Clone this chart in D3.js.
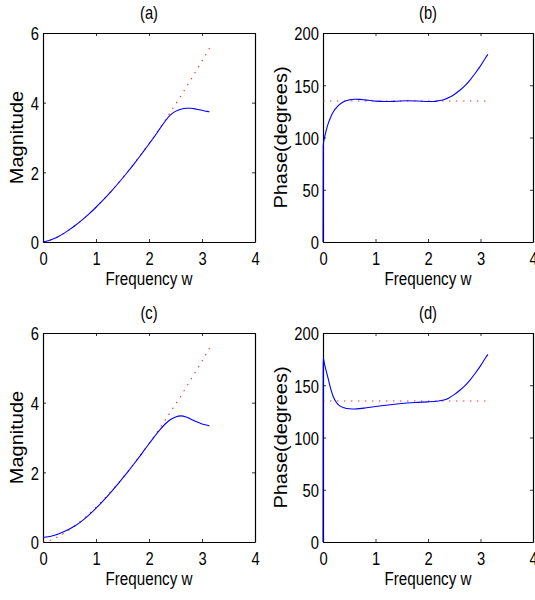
<!DOCTYPE html>
<html>
<head>
<meta charset="utf-8">
<script src="https://cdn.jsdelivr.net/npm/d3@7"></script>
<style>
  html, body { margin: 0; padding: 0; background: #fff; }
  svg { display: block; font-family: "Liberation Sans", Arial, sans-serif; }
</style>
</head>
<body>
<svg id="fig" width="535" height="600"></svg>
<script>
// Frequency grid for magnitude responses (rad/sample)
const magW = [0, 0.1, 0.2, 0.3, 0.4, 0.5, 0.6, 0.7, 0.8, 0.9, 1.0, 1.1, 1.2, 1.3, 1.4, 1.5,
  1.6, 1.7, 1.8, 1.9, 2.0, 2.1, 2.2, 2.3, 2.4, 2.5, 2.6, 2.7, 2.8, 2.9, 3.0, 3.1, 3.1416];
// Ideal magnitude (dotted)
const idealMag = [0, 0.032, 0.089, 0.164, 0.253, 0.354, 0.465, 0.586, 0.716, 0.854, 1.0, 1.154,
  1.315, 1.482, 1.657, 1.837, 2.024, 2.217, 2.415, 2.619, 2.828, 3.043, 3.263, 3.488, 3.718,
  3.953, 4.192, 4.437, 4.685, 4.939, 5.196, 5.458, 5.568];
// Designed filter magnitudes
const magA = [0, 0.035, 0.09, 0.165, 0.255, 0.355, 0.465, 0.585, 0.715, 0.852, 0.998, 1.15,
  1.31, 1.477, 1.651, 1.83, 2.016, 2.208, 2.405, 2.607, 2.814, 3.02, 3.24, 3.46, 3.64, 3.75,
  3.81, 3.84, 3.84, 3.81, 3.78, 3.75, 3.74];
const magC = [0.13, 0.15, 0.185, 0.235, 0.3, 0.375, 0.46, 0.565, 0.685, 0.82, 0.97, 1.125,
  1.29, 1.46, 1.64, 1.825, 2.015, 2.21, 2.41, 2.615, 2.82, 3.02, 3.21, 3.38, 3.51, 3.59,
  3.62, 3.59, 3.52, 3.45, 3.39, 3.35, 3.33];

// Frequency grid for phase responses
const phaseW = [0, 0.004, 0.03, 0.06, 0.1, 0.15, 0.2, 0.25, 0.3, 0.4, 0.5, 0.6, 0.7, 0.8, 0.9,
  1.0, 1.2, 1.4, 1.6, 1.8, 2.0, 2.1, 2.2, 2.3, 2.4, 2.5, 2.6, 2.7, 2.8, 2.9, 3.0, 3.1, 3.1416];
const phaseB = [0, 92, 100, 106.5, 113.5, 119.8, 124.8, 128.2, 131, 134.5, 136, 136.6, 136.5,
  136, 135.4, 134.8, 134.4, 134.7, 135.1, 135, 134.5, 134.5, 135.1, 136.2, 138.2, 141.2, 145,
  149.5, 155, 161.5, 168.5, 176.5, 179.5];
const phaseD = [0, 176, 170, 164, 156, 146, 138.5, 134, 131, 128.5, 127.5, 127.3, 127.6,
  128.2, 128.9, 129.6, 130.9, 132.1, 133.0, 133.6, 134.1, 134.4, 134.9, 135.9, 137.9, 141, 145,
  149.5, 155, 161.5, 168.5, 176.5, 179.5];
// Ideal phase (dotted)
const idealPhaseW = [0, 3.1416];
const idealPhase = [135, 135];

// Axis ticks and labels
const xTicks = [0, 1, 2, 3, 4];
const magTicks = [0, 2, 4, 6];
const phaseTicks = [0, 50, 100, 150, 200];
const titles = ["(a)", "(b)", "(c)", "(d)"];
const xLabel = "Frequency w";
const yLabels = ["Magnitude", "Phase(degrees)"];

const zip = (xs, ys) => xs.map((x, i) => [x, ys[i]]);

const panels = [
  { col: 0, row: 0, title: titles[0], ylab: yLabels[0], yDom: [0, 6], yTicks: magTicks,
    ideal: zip(magW, idealMag), actual: zip(magW, magA) },
  { col: 1, row: 0, title: titles[1], ylab: yLabels[1], yDom: [0, 200], yTicks: phaseTicks,
    ideal: zip(idealPhaseW, idealPhase), actual: zip(phaseW, phaseB) },
  { col: 0, row: 1, title: titles[2], ylab: yLabels[0], yDom: [0, 6], yTicks: magTicks,
    ideal: zip(magW, idealMag), actual: zip(magW, magC) },
  { col: 1, row: 1, title: titles[3], ylab: yLabels[1], yDom: [0, 200], yTicks: phaseTicks,
    ideal: zip(idealPhaseW, idealPhase), actual: zip(phaseW, phaseD) }
];

const svg = d3.select("#fig");
const colX = [[43, 255], [323, 533]];
const rowY = [[33, 242], [333, 542]];
const ylabX = [23, 287];
const fmt = d3.format("~g");

const tickSX = 0.82;   // horizontal squeeze of the lettering
panels.forEach(p => {
  const [x0, x1] = colX[p.col];
  const [y0, y1] = rowY[p.row];
  const x = d3.scaleLinear().domain([0, 4]).range([x0, x1]);
  const y = d3.scaleLinear().domain(p.yDom).range([y1, y0]);
  const g = svg.append("g");

  // box with inward ticks on all four sides
  const axB = g.append("g").attr("transform", `translate(0,${y1})`)
    .call(d3.axisBottom(x).tickValues(xTicks).tickFormat(fmt)
      .tickSizeInner(-3).tickSizeOuter(0).tickPadding(10));
  const axT = g.append("g").attr("transform", `translate(0,${y0})`)
    .call(d3.axisTop(x).tickValues(xTicks).tickSizeInner(-3).tickSizeOuter(0).tickFormat(""));
  const axL = g.append("g").attr("transform", `translate(${x0},0)`)
    .call(d3.axisLeft(y).tickValues(p.yTicks).tickFormat(fmt)
      .tickSizeInner(-3).tickSizeOuter(0).tickPadding(5));
  const axR = g.append("g").attr("transform", `translate(${x1},0)`)
    .call(d3.axisRight(y).tickValues(p.yTicks).tickSizeInner(-3).tickSizeOuter(0).tickFormat(""));
  [axB, axT, axL, axR].forEach(a => {
    a.select(".domain").attr("stroke", "#000").attr("stroke-width", 1.2);
    a.selectAll(".tick line").attr("stroke", "#000").attr("stroke-width", 0.8);
  });
  axB.selectAll(".tick text").attr("font-size", 18).attr("fill", "#000")
    .attr("font-family", "Liberation Sans, Arial, sans-serif")
    .attr("transform", `scale(${tickSX},1)`);
  axL.selectAll(".tick text").attr("font-size", 18).attr("fill", "#000")
    .attr("font-family", "Liberation Sans, Arial, sans-serif")
    .attr("dy", "0.38em")
    .attr("transform", `scale(${tickSX},1)`);

  // ideal response (dotted red) and designed response (blue)
  const line = d3.line().x(d => x(d[0])).y(d => y(d[1])).curve(d3.curveMonotoneX);
  g.append("path").datum(p.ideal).attr("d", line)
    .attr("fill", "none").attr("stroke", "#ff0000").attr("stroke-width", 1.1)
    .attr("stroke-dasharray", "1.4,5.6").attr("opacity", 0.85);
  g.append("path").datum(p.actual).attr("d", line)
    .attr("fill", "none").attr("stroke", "#0000ff").attr("stroke-width", 1.1);

  // title, x label, y label
  const cx = (x0 + x1) / 2, cy = (y0 + y1) / 2;
  g.append("text").attr("transform", `translate(${cx},${y0 - 14}) scale(0.82,1)`)
    .attr("text-anchor", "middle").attr("font-size", 18).text(p.title);
  g.append("text").attr("transform", `translate(${cx},${y1 + 43}) scale(0.8,1)`)
    .attr("text-anchor", "middle").attr("font-size", 19).text(xLabel);
  g.append("text").attr("transform", `translate(${ylabX[p.col]},${cy}) scale(0.92,1) rotate(-90)`)
    .attr("text-anchor", "middle").attr("font-size", 20).text(p.ylab);
});
</script>
</body>
</html>
